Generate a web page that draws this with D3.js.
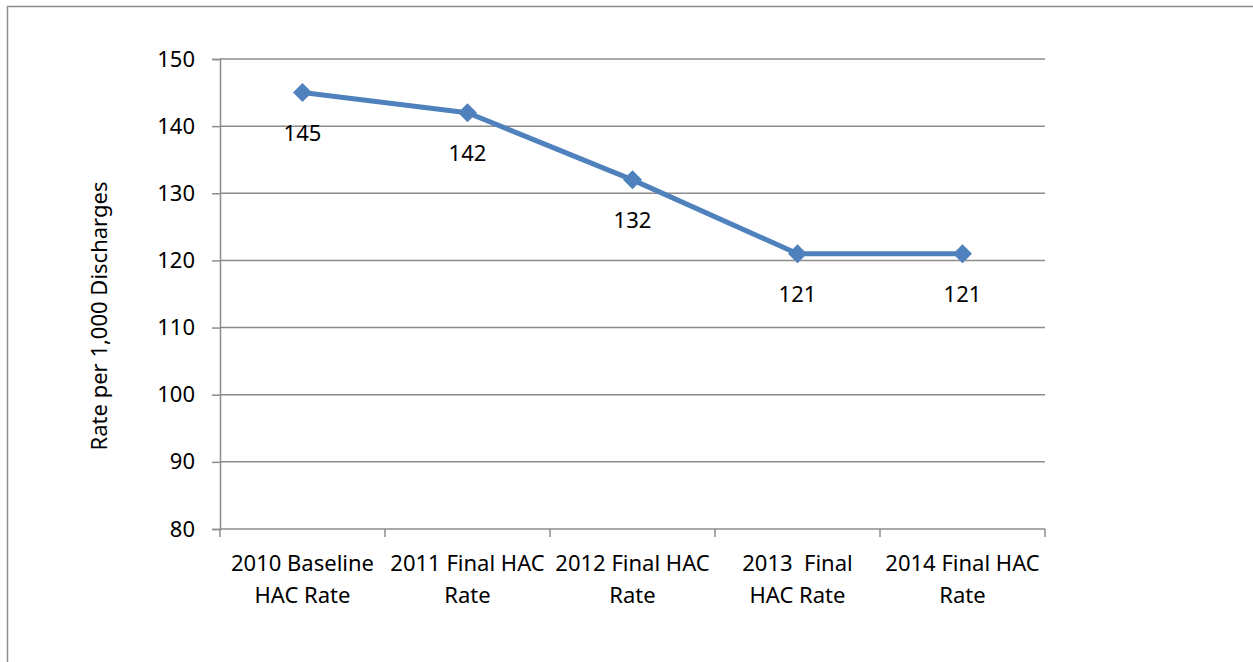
<!DOCTYPE html>
<html>
<head>
<meta charset="utf-8">
<script src="https://cdn.jsdelivr.net/npm/d3@7"></script>
<style>
  body { margin: 0; background: #fff; }
  svg { display: block; font-family: "Noto Sans", "Open Sans", sans-serif; }
  text { white-space: pre; fill: #000; }
</style>
</head>
<body>
<svg width="1253" height="662"></svg>
<script>
// chart data
const categories = [
    "2010 Baseline\nHAC Rate",
    "2011 Final HAC\nRate",
    "2012 Final HAC\nRate",
    "2013  Final\nHAC Rate",
    "2014 Final HAC\nRate"
];
const rates = [145, 142, 132, 121, 121];
const yTicks = [80, 90, 100, 110, 120, 130, 140, 150];
const yTitle = "Rate per 1,000 Discharges";

const svg = d3.select("svg");
const plot = {left: 220, right: 1045, top: 59, bottom: 529};
const gridColor = "#8c8c8c";
const lineColor = "#4f81bd";
const fontSize = 22;

// outer frame, runs off the right and bottom edges like the source
svg.append("rect")
    .attr("x", 7.5).attr("y", 6.5)
    .attr("width", 1400).attr("height", 800)
    .attr("fill", "none")
    .attr("stroke", gridColor)
    .attr("stroke-width", 1.5);

const x = d3.scaleBand()
    .domain(categories)
    .range([plot.left, plot.right]);

const y = d3.scaleLinear()
    .domain([80, 150])
    .range([plot.bottom, plot.top]);

const cx = (c) => x(c) + x.bandwidth() / 2;

// horizontal gridlines
svg.append("g")
    .selectAll("line")
    .data(yTicks.slice(1))
    .join("line")
    .attr("x1", plot.left).attr("x2", plot.right)
    .attr("y1", (d) => y(d)).attr("y2", (d) => y(d))
    .attr("stroke", gridColor)
    .attr("stroke-width", 1.5);

// y axis
const yAxis = svg.append("g")
    .attr("transform", `translate(${plot.left},0)`)
    .call(d3.axisLeft(y).tickValues(yTicks).tickSize(8).tickPadding(17));
yAxis.attr("font-family", null).attr("font-size", fontSize);
yAxis.select(".domain").attr("stroke", gridColor).attr("stroke-width", 1.5);
yAxis.selectAll(".tick line").attr("stroke", gridColor).attr("stroke-width", 1.5);
yAxis.selectAll(".tick text").attr("fill", "#000");

// x axis, ticks sit between categories
const xAxis = svg.append("g")
    .attr("transform", `translate(0,${plot.bottom})`);
xAxis.append("line")
    .attr("x1", plot.left).attr("x2", plot.right)
    .attr("stroke", gridColor).attr("stroke-width", 1.5);
const bounds = categories.map((c) => x(c)).concat([plot.right]);
xAxis.selectAll("line.tick")
    .data(bounds)
    .join("line")
    .attr("class", "tick")
    .attr("x1", (d) => d).attr("x2", (d) => d)
    .attr("y1", 0).attr("y2", 8)
    .attr("stroke", gridColor).attr("stroke-width", 1.5);

xAxis.selectAll("text.cat")
    .data(categories)
    .join("text")
    .attr("class", "cat")
    .attr("text-anchor", "middle")
    .attr("font-size", fontSize)
    .attr("y", 42)
    .selectAll("tspan")
    .data((d) => d.split("\n").map((t) => ({t: t, c: d})))
    .join("tspan")
    .attr("x", (d) => cx(d.c))
    .attr("dy", (d, i) => i === 0 ? 0 : 32)
    .text((d) => d.t);

// y title
svg.append("text")
    .attr("transform", `translate(107,316) rotate(-90)`)
    .attr("text-anchor", "middle")
    .attr("font-size", fontSize)
    .text(yTitle);

// series line
const points = categories.map((c, i) => ({c: c, v: rates[i]}));
const line = d3.line()
    .x((d) => cx(d.c))
    .y((d) => y(d.v));

svg.append("path")
    .attr("d", line(points))
    .attr("fill", "none")
    .attr("stroke", lineColor)
    .attr("stroke-width", 5)
    .attr("stroke-linejoin", "round");

svg.append("g")
    .selectAll("path")
    .data(points)
    .join("path")
    .attr("d", d3.symbol(d3.symbolDiamond2, 230)())
    .attr("transform", (d) => `translate(${cx(d.c)},${y(d.v)})`)
    .attr("fill", lineColor);

// data labels below points
svg.append("g")
    .selectAll("text")
    .data(points)
    .join("text")
    .attr("text-anchor", "middle")
    .attr("font-size", fontSize)
    .attr("x", (d) => cx(d.c))
    .attr("y", (d) => y(d.v) + 48)
    .text((d) => d.v);
</script>
</body>
</html>
